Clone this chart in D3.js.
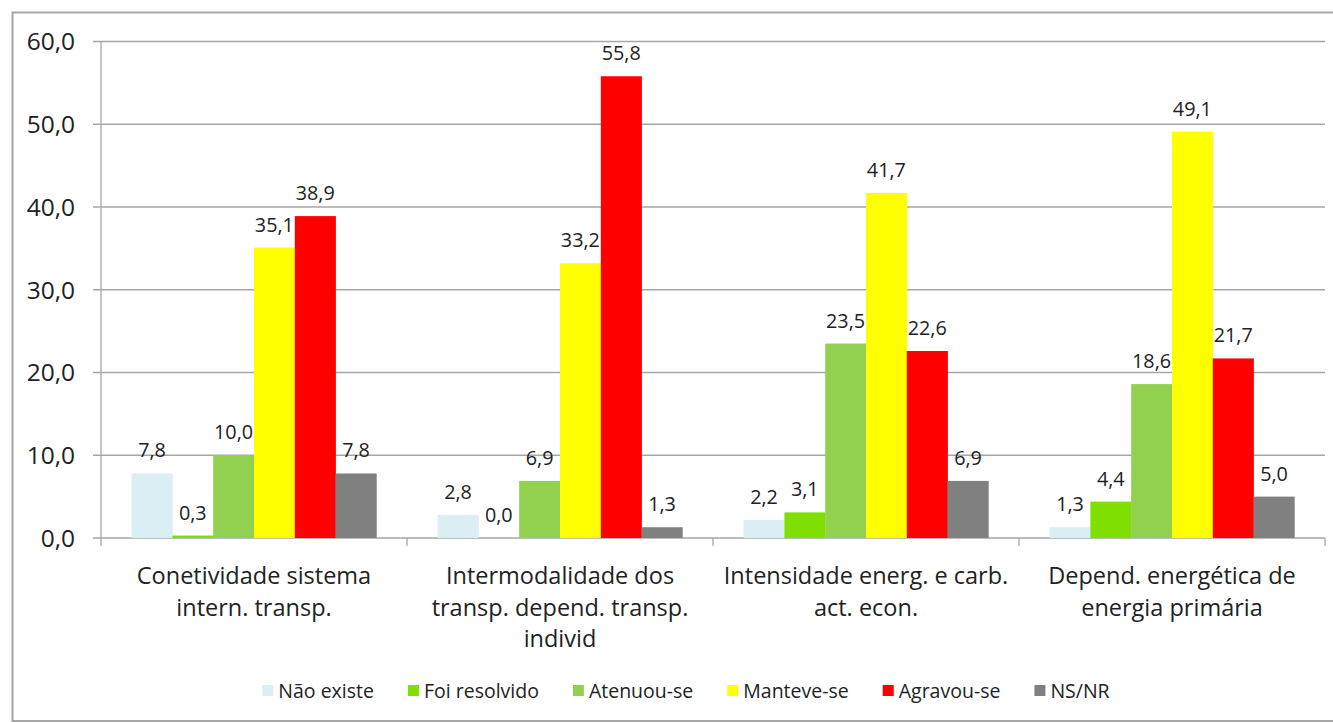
<!DOCTYPE html>
<html><head><meta charset="utf-8">
<script src="https://cdn.jsdelivr.net/npm/d3@7"></script>
<style>body{margin:0;background:#fff}svg{display:block}text{font-family:"Open Sans",sans-serif;fill:#222}</style>
</head><body><svg id="c" width="1333" height="723"></svg>
<script>
const categories = ["Conetividade sistema intern. transp.","Intermodalidade dos transp. depend. transp. individ","Intensidade energ. e carb. act. econ.","Depend. energética de energia primária"];
const categoryLines = [["Conetividade sistema","intern. transp."],["Intermodalidade dos","transp. depend. transp.","individ"],["Intensidade energ. e carb.","act. econ."],["Depend. energética de","energia primária"]];
const seriesNames = ["Não existe","Foi resolvido","Atenuou-se","Manteve-se","Agravou-se","NS/NR"];
const seriesColors = ["#DAEEF3","#7FE000","#92D050","#FFFF00","#FF0000","#808080"];
const naoExiste   = [7.8, 2.8, 2.2, 1.3];
const foiResolvido= [0.3, 0.0, 3.1, 4.4];
const atenuouSe   = [10.0, 6.9, 23.5, 18.6];
const manteveSe   = [35.1, 33.2, 41.7, 49.1];
const agravouSe   = [38.9, 55.8, 22.6, 21.7];
const nsNr        = [7.8, 1.3, 6.9, 5.0];
const series = [naoExiste, foiResolvido, atenuouSe, manteveSe, agravouSe, nsNr];
const yTicks = [0,10,20,30,40,50,60];

(function(){
const svg = d3.select("#c");
const fmt = v => v.toFixed(1).replace(".", ",");
svg.append("rect").attr("x",12.5).attr("y",12.5).attr("width",1340).attr("height",708.5)
  .attr("fill","none").attr("stroke","#a6a6a6").attr("stroke-width",2);

const pl=101, pr=1325, pt=41.5, pb=538;
const x0 = d3.scaleBand().domain(categories).range([pl,pr]).paddingInner(0).paddingOuter(0);
const bw = x0.bandwidth()/(seriesNames.length+1.5);
const x1 = d3.scaleBand().domain(seriesNames).range([bw*0.75, x0.bandwidth()-bw*0.75]).padding(0);
const y = d3.scaleLinear().domain([0,60]).range([pb,pt]);

svg.append("g").selectAll("line").data(yTicks).join("line")
  .attr("x1",pl-8).attr("x2",pr).attr("y1",d=>y(d)).attr("y2",d=>y(d))
  .attr("stroke","#a6a6a6").attr("stroke-width",1.3);
svg.append("line").attr("x1",pl).attr("x2",pl).attr("y1",pt).attr("y2",pb)
  .attr("stroke","#a6a6a6").attr("stroke-width",1.3);
svg.append("g").selectAll("text").data(yTicks).join("text")
  .attr("x",75).attr("y",d=>y(d)).attr("dy","0.36em").attr("text-anchor","end")
  .style("font-size","24.5px").text(d=>fmt(d));
const bounds = categories.map(c=>x0(c)).concat([pr]);
svg.append("g").selectAll("line").data(bounds).join("line")
  .attr("x1",d=>d).attr("x2",d=>d).attr("y1",pb).attr("y2",pb+8)
  .attr("stroke","#a6a6a6").attr("stroke-width",1.3);

const groups = svg.append("g").selectAll("g").data(categories).join("g")
  .attr("transform",c=>`translate(${x0(c)},0)`);
groups.each(function(c,ci){
  const g = d3.select(this);
  seriesNames.forEach((s,si)=>{
    const v = series[si][ci];
    g.append("rect").attr("x",x1(s)).attr("width",x1.bandwidth()+0.3)
      .attr("y",y(v)).attr("height",pb-y(v)).attr("fill",seriesColors[si]);
  });
  seriesNames.forEach((s,si)=>{
    const v = series[si][ci];
    g.append("text").attr("x",x1(s)+x1.bandwidth()/2).attr("y",y(v)-16)
      .attr("text-anchor","middle").style("font-size","19.8px").text(fmt(v));
  });
  const t = g.append("text").attr("text-anchor","middle").style("font-size","23.5px");
  categoryLines[ci].forEach((ln,li)=>{
    t.append("tspan").attr("x",x0.bandwidth()/2).attr("y",584+li*31.5).text(ln);
  });
});

const leg = svg.append("g");
const items = leg.selectAll("g").data(seriesNames).join("g");
items.append("rect").attr("width",11).attr("height",11).attr("y",-6).attr("fill",(d,i)=>seriesColors[i]);
items.append("text").attr("x",16).attr("dy","0.35em").style("font-size","19.5px").text(d=>d);
let xpos=0;
items.each(function(){ const w=this.getBBox().width; d3.select(this).attr("transform",`translate(${xpos},691)`); xpos+=w+34; });
const total = xpos-34;
leg.attr("transform",`translate(${686-total/2},0)`);
})();
</script></body></html>
